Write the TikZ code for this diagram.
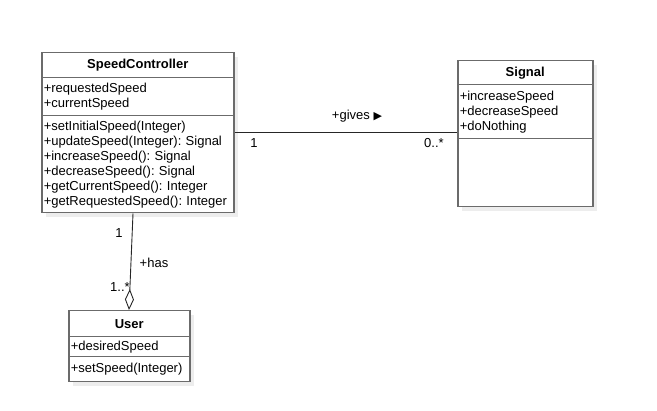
\documentclass[tikz,border=0pt]{standalone}
\usepackage{fontspec}
\setmainfont{Liberation Sans}
\newfontfamily\symfont{DejaVu Sans}
\usetikzlibrary{arrows.meta}

\definecolor{boxline}{HTML}{6B6B6B}
\definecolor{shadowgray}{HTML}{EDEDED}

\begin{document}
\frenchspacing
\begin{tikzpicture}[x=1pt,y=-1pt,
part/.style={draw=boxline,fill=white,line width=1.5pt,anchor=north west,inner xsep=2pt,inner ysep=0pt,
  align=left,font=\fontsize{13}{15}\selectfont},
head/.style={part,align=center,font=\fontsize{13}{15}\selectfont\bfseries},
link/.style={draw=black!85,line width=0.9pt},
lbl/.style={font=\fontsize{13}{15}\selectfont,inner sep=0pt}]
\useasboundingbox(0,0)rectangle(657,411);
% shadows
\fill[shadowgray](46,57)rectangle(238,217);
\fill[shadowgray](462,65)rectangle(597,211);
\fill[shadowgray](73,315)rectangle(194,386);
% SpeedController
\node[head,text width=188pt,minimum height=25pt](schead)at(41,52){SpeedController};
\node[part,text width=188pt,minimum height=38pt](scattr)at(41,77){+requestedSpeed\\+currentSpeed};
\node[part,text width=188pt,minimum height=97pt](scops)at(41,115){+setInitialSpeed(Integer)\\
+updateSpeed(Integer): Signal\\+increaseSpeed(): Signal\\+decreaseSpeed(): Signal\\
+getCurrentSpeed(): Integer\\+getRequestedSpeed(): Integer};
% Signal
\node[head,text width=131pt,minimum height=24pt](sighead)at(457,60){Signal};
\node[part,text width=131pt,minimum height=54pt](sigattr)at(457,84){+increaseSpeed\\+decreaseSpeed\\+doNothing};
\node[part,text width=131pt,minimum height=68pt](sigops)at(457,138){};
% User
\node[head,text width=117pt,minimum height=26pt](usrhead)at(68,310){User};
\node[part,text width=117pt,minimum height=20pt](usrattr)at(68,336){+desiredSpeed};
\node[part,text width=117pt,minimum height=25pt](usrops)at(68,356){+setSpeed(Integer)};
% associations
\draw[link](scops.east|-0,132)--(sigattr.west|-0,132);
\draw[link,-{Diamond[open,fill=white,length=21pt,width=9pt]}](scops.south-|133,0)--(usrhead.north-|129,0);
\node[lbl](givesl)at(357,116){+gives {\symfont\fontsize{11}{12}\selectfont▶}};
\node[lbl](giveso)at(254,143){1};
\node[lbl](givest)at(434,143){0..*};
\node[lbl](haso)at(119,233){1};
\node[lbl](hasl)at(154,263){+has};
\node[lbl](hast)at(120,287){1..*};
\end{tikzpicture}
\end{document}
